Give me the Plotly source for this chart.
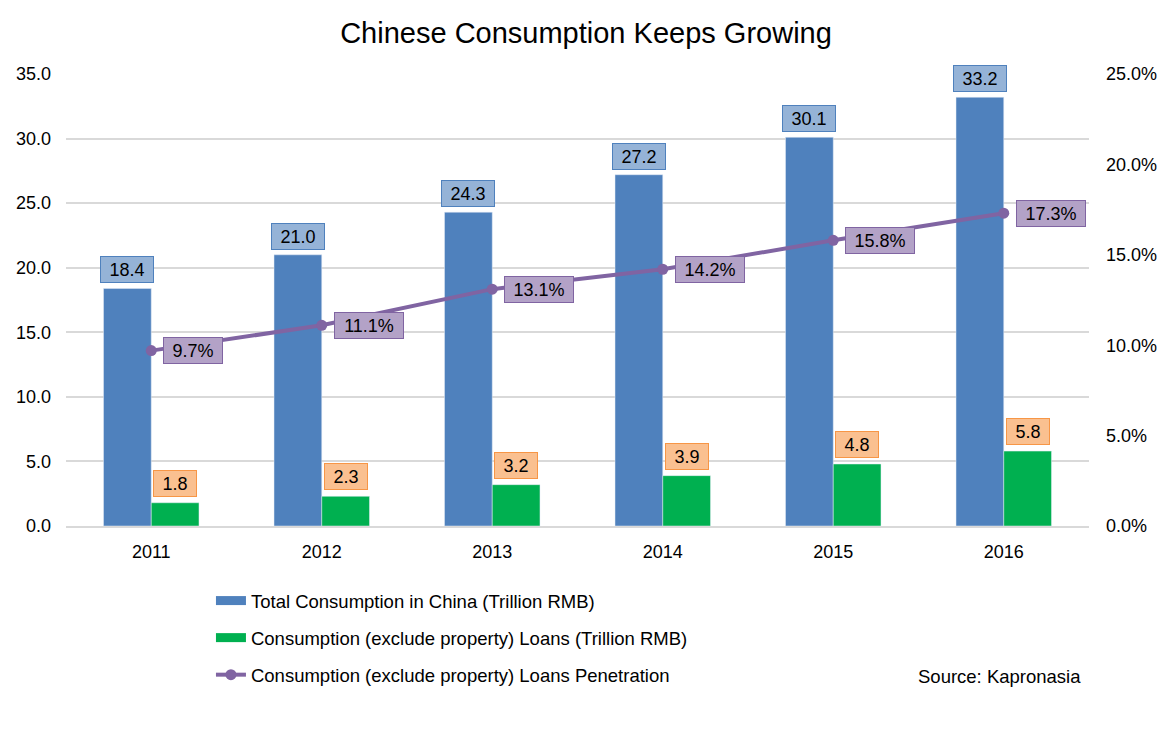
import plotly.graph_objects as go

years = ["2011", "2012", "2013", "2014", "2015", "2016"]
total_consumption = [18.4, 21.0, 24.3, 27.2, 30.1, 33.2]
consumer_loans = [1.8, 2.3, 3.2, 3.9, 4.8, 5.8]
penetration = [0.097, 0.111, 0.131, 0.142, 0.158, 0.173]

BLUE = "#4F81BD"
GREEN = "#00B050"
PURPLE = "#8064A2"
FONT = "Liberation Sans, Arial, sans-serif"
LBL = 18

ADV = {".": 0.278, "%": 0.889}


def box_width(s, size):
    return sum(ADV.get(c, 0.556) for c in s) * size + 12


fig = go.Figure()
fig.add_trace(go.Bar(
    x=years, y=total_consumption, name="Total Consumption in China (Trillion RMB)",
    marker_color=BLUE, offset=-0.28, width=0.28, showlegend=False,
))
fig.add_trace(go.Bar(
    x=years, y=consumer_loans, name="Consumption (exclude property) Loans (Trillion RMB)",
    marker_color=GREEN, offset=0, width=0.28, showlegend=False,
))
fig.add_trace(go.Scatter(
    x=years, y=penetration, name="Consumption (exclude property) Loans Penetration",
    mode="lines+markers", line=dict(color=PURPLE, width=4),
    marker=dict(size=11, color=PURPLE), yaxis="y2", showlegend=False,
))
# legend entries
fig.add_trace(go.Scatter(
    x=[None], y=[None], mode="lines", name="Total Consumption in China (Trillion RMB)",
    line=dict(color=BLUE, width=9), legendgroup="a",
))
fig.add_trace(go.Scatter(
    x=[None], y=[None], mode="lines", name="Consumption (exclude property) Loans (Trillion RMB)",
    line=dict(color=GREEN, width=9), legendgroup="b",
))
fig.add_trace(go.Scatter(
    x=[None], y=[None], mode="lines+markers", name="Consumption (exclude property) Loans Penetration",
    line=dict(color=PURPLE, width=4), marker=dict(size=11, color=PURPLE), legendgroup="c",
    yaxis="y2",
))

annotations = []
for i, v in enumerate(total_consumption):
    t = f"{v:.1f}"
    annotations.append(dict(
        x=i - 0.14, y=v, xref="x", yref="y", text=t, showarrow=False,
        yanchor="bottom", yshift=5, bgcolor="#95B3D7", bordercolor="#4F81BD",
        borderwidth=1, borderpad=2.5, width=box_width(t, LBL),
        font=dict(size=LBL, color="#000000", family=FONT),
    ))
for i, v in enumerate(consumer_loans):
    t = f"{v:.1f}"
    annotations.append(dict(
        x=i + 0.14, y=v, xref="x", yref="y", text=t, showarrow=False,
        yanchor="bottom", yshift=6, bgcolor="#FAC090", bordercolor="#F79646",
        borderwidth=1, borderpad=2.5, width=box_width(t, LBL),
        font=dict(size=LBL, color="#000000", family=FONT),
    ))
for i, v in enumerate(penetration):
    t = f"{v*100:.1f}%"
    annotations.append(dict(
        x=i, y=v, xref="x", yref="y2", text=t, showarrow=False,
        xanchor="left", xshift=12, yanchor="middle", bgcolor="#B3A2C7",
        bordercolor="#8064A2", borderwidth=1, borderpad=2.5, width=box_width(t, LBL),
        font=dict(size=LBL, color="#000000", family=FONT),
    ))
annotations.append(dict(
    x=0.994, y=-0.332, xref="paper", yref="paper", text="Source: Kapronasia",
    showarrow=False, xanchor="right", yanchor="middle",
    font=dict(size=18.5, color="#000000", family=FONT),
))

fig.update_layout(
    width=1173, height=729,
    margin=dict(l=58, r=92, t=66, b=211, autoexpand=False),
    paper_bgcolor="white", plot_bgcolor="white",
    font=dict(family=FONT, size=18, color="#000000"),
    title=dict(text="Chinese Consumption Keeps Growing", x=578 / 1173, xanchor="center",
               y=1 - 25 / 729, yanchor="middle", font=dict(size=29, family=FONT, color="#000000")),
    barmode="overlay",
    xaxis=dict(type="category", showgrid=False, showline=True, linecolor="#D9D9D9", linewidth=2,
               ticks="", tickfont=dict(size=18), range=[-0.5, 5.5], ticklabelstandoff=8),
    yaxis=dict(range=[0, 35], dtick=5, tickformat=".1f", showgrid=True, gridcolor="#D9D9D9",
               gridwidth=2, zeroline=False, ticks="", tickfont=dict(size=18),
               ticklabelstandoff=14),
    yaxis2=dict(range=[0, 0.25], dtick=0.05, tickformat=".1%", overlaying="y", side="right",
                showgrid=False, zeroline=False, ticks="", tickfont=dict(size=18),
                ticklabelstandoff=16),
    legend=dict(orientation="v", x=0.1417, y=-0.124, xanchor="left", yanchor="top",
                font=dict(size=18.5, family=FONT), tracegroupgap=10, traceorder="grouped"),
    showlegend=True,
    annotations=annotations,
)

fig.write_html("out.html")
